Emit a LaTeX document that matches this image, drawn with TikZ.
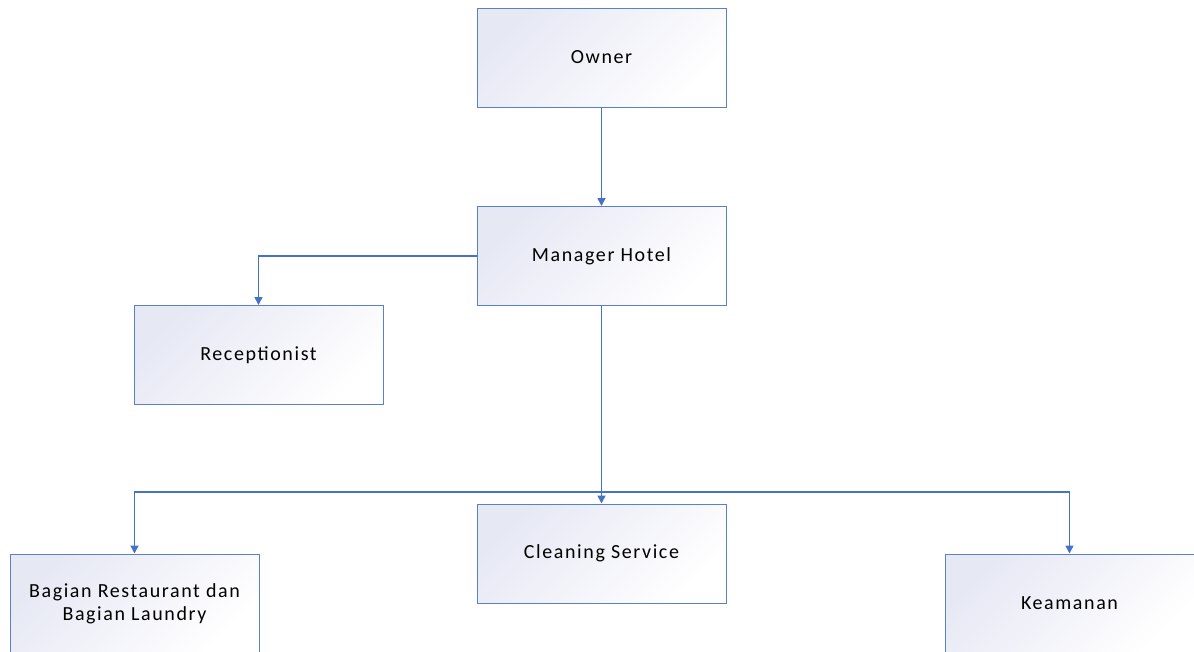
\documentclass[tikz,border=0pt]{standalone}
\usepackage{fontspec}
\setmainfont{Carlito}[LetterSpace=8]
\usetikzlibrary{arrows.meta}
\definecolor{lineblue}{HTML}{4472C4}
\definecolor{boxblue}{HTML}{5B7FC9}
\definecolor{shadetop}{HTML}{E6E8F4}
\tikzset{
  orgbox/.style={draw=boxblue, line width=1pt, minimum width=249pt, minimum height=99pt,
    top color=shadetop, bottom color=white, shading angle=45, align=center,
    font=\fontsize{20}{23}\selectfont, inner sep=0pt},
  conn/.style={draw=lineblue, line width=1.6pt, -{Triangle[width=8pt,length=8pt]}},
}
\begin{document}
\begin{tikzpicture}[x=1pt,y=-1pt]
\useasboundingbox (0,0) rectangle (1194,651);
\node[orgbox] (owner) at (601.5,57.5) {Owner};
\node[orgbox] (mgr) at (601.5,256) {Manager Hotel};
\node[orgbox] (rec) at (258.5,355) {Receptionist};
\node[orgbox] (clean) at (601.5,553.5) {Cleaning Service};
\node[orgbox] (resto) at (134.5,603.5) {Bagian Restaurant dan\\Bagian Laundry};
\node[orgbox] (keam) at (1069.5,603.5) {Keamanan};
\coordinate (bus) at (601.5,492);
\draw[conn] (owner) -- (mgr);
\draw[conn] (mgr.west) -| (rec.north);
\draw[conn] (mgr) -- (clean);
\draw[conn] (bus) -| (resto.north);
\draw[conn] (bus) -| (keam.north);
\end{tikzpicture}
\end{document}
